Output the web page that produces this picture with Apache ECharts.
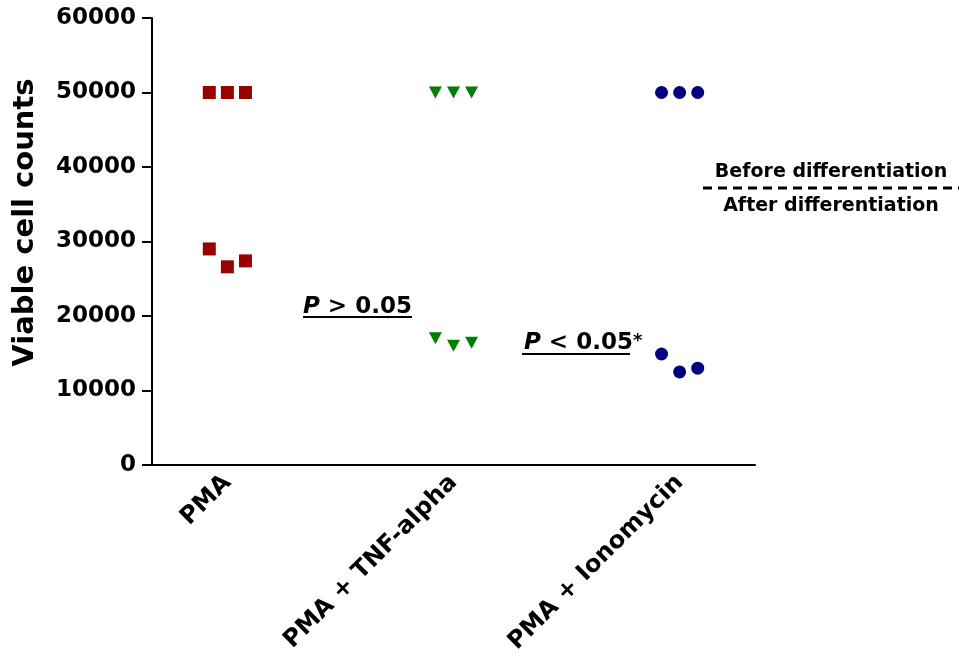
<!DOCTYPE html>
<html>
<head>
<meta charset="utf-8">
<script src="https://cdn.jsdelivr.net/npm/echarts@6/dist/echarts.min.js"></script>
<style>
  html, body { margin: 0; padding: 0; background: #fff; }
  #chart { width: 959px; height: 660px; }
</style>
</head>
<body>
<div id="chart"></div>
<script>
// groups on the x axis
const groups = ["PMA", "PMA + TNF-alpha", "PMA + Ionomycin"];
// slot of each group on the hidden value x axis
const groupPos = [1, 4, 7];
// horizontal spread of the three replicates
const jitter = [-0.24, 0, 0.24];
// viable cell counts, before differentiation
const beforePMA = [50000, 50000, 50000];
const beforeTNF = [50000, 50000, 50000];
const beforeIono = [50000, 50000, 50000];
// viable cell counts, after differentiation
const afterPMA = [29000, 26600, 27400];
const afterTNF = [17000, 16000, 16400];
const afterIono = [14900, 12500, 13000];
const yTicks = [0, 10000, 20000, 30000, 40000, 50000, 60000];

const FONT = "DejaVu Sans";

function pts(g, vals) {
  return vals.map((v, i) => [groupPos[g] + jitter[i], v]);
}

let myChart = echarts.init(document.getElementById("chart"));

function mkSeries(g, vals, symbol, size, color, rot) {
  return {
    type: "scatter",
    symbol: symbol,
    symbolSize: size,
    symbolRotate: rot || 0,
    itemStyle: { color: color, opacity: 1 },
    emphasis: { disabled: true },
    data: pts(g, vals),
    z: 5
  };
}

let option = {
  animation: false,
  grid: { left: 152, right: 204, top: 18, bottom: 195, containLabel: false, outerBoundsMode: "none" },
  xAxis: {
    type: "value",
    min: 0,
    max: 8,
    interval: 1,
    axisLine: { show: true, onZero: false, lineStyle: { color: "#000", width: 2 } },
    axisTick: { show: false },
    splitLine: { show: false },
    axisLabel: {
      rotate: 45,
      margin: 14,
      color: "#000",
      fontFamily: FONT,
      fontWeight: "bold",
      fontSize: 24,
      formatter: function (v) {
        let k = groupPos.indexOf(v);
        return k >= 0 ? groups[k] : "";
      }
    }
  },
  yAxis: {
    type: "value",
    min: yTicks[0],
    max: yTicks[yTicks.length - 1],
    interval: 10000,
    name: "Viable cell counts",
    nameLocation: "middle",
    nameGap: 112,
    nameTextStyle: { color: "#000", fontFamily: FONT, fontWeight: "bold", fontSize: 29, padding: [0, 0, 0, 38] },
    axisLine: { show: true, lineStyle: { color: "#000", width: 2 } },
    axisTick: { show: true, length: 10, lineStyle: { color: "#000", width: 2 } },
    splitLine: { show: false },
    axisLabel: {
      margin: 16,
      color: "#000",
      fontFamily: FONT,
      fontWeight: "bold",
      fontSize: 23,
      formatter: function (v) { return String(v); }
    }
  },
  series: [
    mkSeries(0, beforePMA, "rect", 13, "#990000"),
    mkSeries(0, afterPMA, "rect", 13, "#990000"),
    mkSeries(1, beforeTNF, "triangle", [13, 12], "#008000", 180),
    mkSeries(1, afterTNF, "triangle", [13, 12], "#008000", 180),
    mkSeries(2, beforeIono, "circle", 13, "#000080"),
    mkSeries(2, afterIono, "circle", 13, "#000080")
  ],
  graphic: [
    {
      type: "text", left: 303, top: 296,
      style: {
        text: "{i|P} > 0.05",
        fill: "#000", fontFamily: FONT, fontWeight: "bold", fontSize: 23,
        rich: { i: { fontStyle: "italic", fontFamily: FONT, fontWeight: "bold", fontSize: 23 } }
      }
    },
    { type: "line", shape: { x1: 303, y1: 317, x2: 412, y2: 317 }, style: { stroke: "#000", lineWidth: 2 } },
    {
      type: "text", left: 524, top: 332,
      style: {
        text: "{i|P} < 0.05{s|*}",
        fill: "#000", fontFamily: FONT, fontWeight: "bold", fontSize: 23,
        rich: {
          i: { fontStyle: "italic", fontFamily: FONT, fontWeight: "bold", fontSize: 23 },
          s: { fontFamily: FONT, fontWeight: "bold", fontSize: 18, verticalAlign: "top" }
        }
      }
    },
    { type: "line", shape: { x1: 522, y1: 354, x2: 630, y2: 354 }, style: { stroke: "#000", lineWidth: 2 } },
    { type: "line", shape: { x1: 703, y1: 188, x2: 959, y2: 188 }, style: { stroke: "#000", lineWidth: 3, lineDash: [9, 6] } },
    {
      type: "text", x: 831, y: 172,
      style: { text: "Before differentiation", fill: "#000", fontFamily: FONT, fontWeight: "bold", fontSize: 19, align: "center", verticalAlign: "middle" }
    },
    {
      type: "text", x: 831, y: 206,
      style: { text: "After differentiation", fill: "#000", fontFamily: FONT, fontWeight: "bold", fontSize: 19, align: "center", verticalAlign: "middle" }
    }
  ]
};

myChart.setOption(option);
window.onresize = function () {
  myChart.resize();
};
</script>
</body>
</html>
